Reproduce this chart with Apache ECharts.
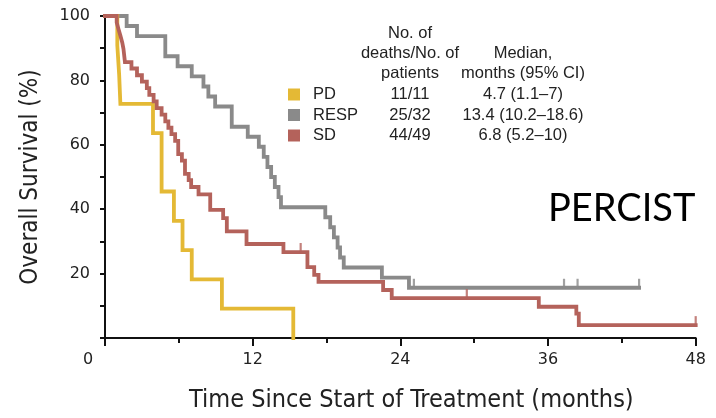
<!DOCTYPE html>
<html>
<head>
<meta charset="utf-8">
<script src="https://cdn.jsdelivr.net/npm/echarts@6/dist/echarts.min.js"></script>
<style>
html,body{margin:0;padding:0;background:#fff;}
#chart{width:716px;height:418px;}
</style>
</head>
<body>
<div id="chart"></div>
<script>
// ---- data ----
var groups = ['PD', 'RESP', 'SD'];
var deathsText = ['11/11', '25/32', '44/49'];
var medianText = ['4.7 (1.1\u20137)', '13.4 (10.2\u201318.6)', '6.8 (5.2\u201310)'];

var pdTime = [0, 1.0, 1.15, 1.25, 3.9, 4.6, 5.6, 6.3, 7.05, 9.5, 15.3];
var pdSurv = [100, 90.9, 81.8, 72.7, 63.6, 45.5, 36.4, 27.3, 18.2, 9.1, 0];

var respTime = [0, 1.76, 2.6, 4.9, 5.9, 7.05, 8.0, 8.4, 8.95, 10.3, 11.6, 12.5, 12.9, 13.2, 13.5, 13.8, 14.1, 14.3, 17.9, 18.3, 18.6, 18.9, 19.1, 19.4, 22.5, 24.7, 43.4];
var respSurv = [100, 96.9, 93.75, 87.5, 84.4, 81.25, 78.1, 75, 71.9, 65.6, 62.5, 59.4, 56.25, 53.1, 50, 46.9, 43.75, 40.6, 37.5, 34.4, 31.25, 28.1, 25, 21.9, 18.75, 15.6, 15.6];
var respCensorTime = [25.1, 37.3, 38.4, 43.4];
var respCensorSurv = [15.6, 15.6, 15.6, 15.6];

var sdTime = [0, 0.95, 1.1, 1.25, 1.4, 1.5, 1.62, 2.15, 2.6, 3.0, 3.4, 3.6, 3.95, 4.2, 4.6, 4.9, 5.15, 5.4, 5.7, 5.95, 6.25, 6.5, 6.8, 7.0, 7.6, 8.55, 9.6, 9.9, 11.5, 14.5, 16.45, 17.0, 17.35, 22.6, 23.3, 35.25, 38.3, 38.5, 48];
var sdSurv = [100, 97.96, 95.9, 93.9, 91.8, 89.8, 85.7, 83.7, 81.6, 79.6, 77.6, 75.5, 73.5, 71.4, 69.4, 67.3, 65.3, 63.3, 61.2, 57.1, 55.1, 51.0, 49.0, 46.9, 44.6, 39.8, 37.2, 33.1, 29.2, 26.7, 22.0, 19.6, 17.4, 14.9, 12.4, 9.7, 7.6, 4.0, 4.0];
var sdCensorTime = [15.9, 29.4, 48];
var sdCensorSurv = [26.7, 12.4, 4.0];

var xTicks = [0, 12, 24, 36, 48];
var yTicks = [0, 20, 40, 60, 80, 100];

// ---- build ----
var colors = {PD: '#E4B935', RESP: '#8A8A8A', SD: '#B4625B'};
function pairs(a, b) { return a.map(function (v, i) { return [v, b[i]]; }); }

function lineSeries(name, t, s, z) {
  return {
    name: name, type: 'line', step: 'end', data: pairs(t, s),
    showSymbol: false, symbol: 'none', z: z, silent: true,
    lineStyle: {width: 3.8, color: colors[name], cap: 'square', join: 'miter'},
    itemStyle: {color: colors[name]}
  };
}
function censorSeries(name, t, s, z) {
  return {
    name: name + ' censored', type: 'scatter', data: pairs(t, s), z: z, silent: true,
    symbol: 'rect', symbolSize: [2.2, 10], symbolOffset: [0, -4],
    itemStyle: {color: colors[name]}
  };
}

var chart = echarts.init(document.getElementById('chart'), null, {renderer: 'canvas'});
var tableFont = 'Liberation Sans, Arial, sans-serif';
var titleFont = '"DejaVu Sans Condensed", sans-serif';
var tickFont = '"DejaVu Sans", sans-serif';
var tf = 16.5;

chart.setOption({
  animation: false,
  backgroundColor: '#ffffff',
  grid: {left: 105, right: 20.3, top: 16, bottom: 80},
  xAxis: {
    type: 'value', min: 0, max: 48, interval: 12,
    splitLine: {show: false},
    axisLine: {lineStyle: {color: '#111', width: 2}},
    axisTick: {length: 8, lineStyle: {color: '#111', width: 2}},
    minorTick: {show: true, splitNumber: 2, length: 5, lineStyle: {color: '#111', width: 2}},
    axisLabel: {
      margin: 14, color: '#222', fontSize: 16, fontFamily: tickFont,
      showMinLabel: false,
      formatter: function (v) { return xTicks.indexOf(v) > 0 ? String(v) : ''; }
    },
    name: 'Time Since Start of Treatment (months)', nameLocation: 'middle', nameGap: 50,
    nameTextStyle: {fontSize: 25, color: '#222', fontFamily: titleFont, padding: [0, 0, 0, 22]}
  },
  yAxis: {
    type: 'value', min: 0, max: 100, interval: 20,
    splitLine: {show: false},
    axisLine: {show: true, lineStyle: {color: '#111', width: 2}},
    axisTick: {show: true, length: 5, lineStyle: {color: '#111', width: 2}},
    minorTick: {show: true, splitNumber: 2, length: 5, lineStyle: {color: '#111', width: 2}},
    axisLabel: {
      margin: 15, color: '#222', fontSize: 16, fontFamily: tickFont,
      showMinLabel: false,
      formatter: function (v) { return yTicks.indexOf(v) > 0 ? String(v) : ''; }
    },
    name: 'Overall Survival (%)', nameLocation: 'middle', nameGap: 62,
    nameTextStyle: {fontSize: 24, color: '#222', fontFamily: titleFont}
  },
  legend: {
    data: groups, orient: 'vertical', left: 288, top: 86, padding: 0,
    icon: 'rect', itemWidth: 12, itemHeight: 12, itemGap: 3.5,
    selectedMode: false,
    textStyle: {
      fontFamily: tableFont, fontSize: tf, color: '#222', lineHeight: 14,
      rich: {
        a: {width: 67, padding: [0, 0, 0, 8], fontSize: tf, lineHeight: 14, fontFamily: tableFont, color: '#222'},
        b: {width: 60, align: 'center', fontSize: tf, lineHeight: 14, fontFamily: tableFont, color: '#222'},
        c: {width: 166, align: 'center', fontSize: tf, lineHeight: 14, fontFamily: tableFont, color: '#222'}
      }
    },
    formatter: function (name) {
      var i = groups.indexOf(name);
      return '{a|' + name + '}{b|' + deathsText[i] + '}{c|' + medianText[i] + '}';
    }
  },
  graphic: [
    {type: 'text', x: 410, y: 33, style: {text: 'No. of', font: tf + 'px ' + tableFont, fill: '#222', align: 'center', verticalAlign: 'middle'}},
    {type: 'text', x: 410, y: 53, style: {text: 'deaths/No. of', font: tf + 'px ' + tableFont, fill: '#222', align: 'center', verticalAlign: 'middle'}},
    {type: 'text', x: 410, y: 73, style: {text: 'patients', font: tf + 'px ' + tableFont, fill: '#222', align: 'center', verticalAlign: 'middle'}},
    {type: 'text', x: 523, y: 53, style: {text: 'Median,', font: tf + 'px ' + tableFont, fill: '#222', align: 'center', verticalAlign: 'middle'}},
    {type: 'text', x: 523, y: 73, style: {text: 'months (95% CI)', font: tf + 'px ' + tableFont, fill: '#222', align: 'center', verticalAlign: 'middle'}},
    {type: 'text', x: 548, y: 209, style: {text: 'PERCIST', font: '38px Lato, "Open Sans", sans-serif', fill: '#000', align: 'left', verticalAlign: 'middle'}},
    {type: 'text', x: 88, y: 360, style: {text: '0', font: '16px ' + tickFont, fill: '#222', align: 'center', verticalAlign: 'middle'}}
  ],
  series: [
    lineSeries('RESP', respTime, respSurv, 2),
    censorSeries('RESP', respCensorTime, respCensorSurv, 2),
    lineSeries('PD', pdTime, pdSurv, 3),
    lineSeries('SD', sdTime, sdSurv, 4),
    censorSeries('SD', sdCensorTime, sdCensorSurv, 4)
  ]
});
</script>
</body>
</html>
